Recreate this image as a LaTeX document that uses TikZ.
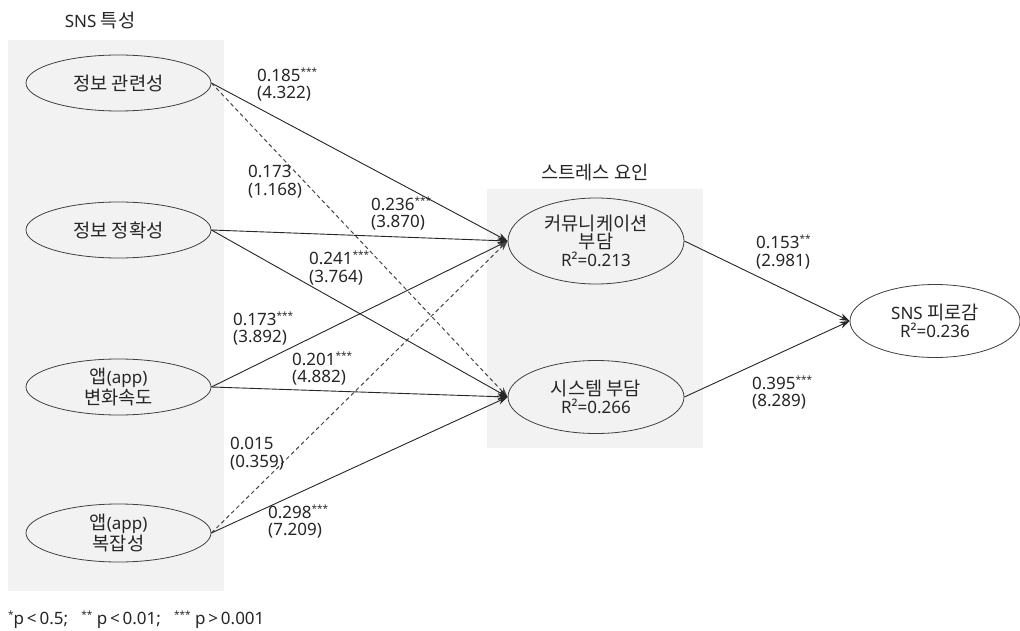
\documentclass[tikz,border=0pt]{standalone}
\usepackage{fontspec}
\setmainfont{Noto Sans}
\newfontfamily\kr[Scale=1.1]{Noto Sans CJK KR}
\usetikzlibrary{shapes.geometric,arrows.meta}
\definecolor{boxgray}{HTML}{F2F2F2}
\definecolor{linegray}{HTML}{404040}
\definecolor{txt}{HTML}{262626}
\newcommand\sg[1]{\raisebox{6pt}{\fontsize{10}{10}\selectfont #1}}
\begin{document}
\begin{tikzpicture}[x=1pt,y=-1pt,
  every node/.style={font=\fontsize{17}{17.5}\selectfont, text=txt},
  latent/.style={ellipse, draw=linegray, line width=0.8pt, inner sep=0pt, align=center},
  sigline/.style={draw=black!85, line width=0.9pt, -{Stealth[length=10pt,width=7pt]}},
  nsline/.style={sigline, line width=1pt, dash pattern=on 4pt off 3pt, draw=black!72},
  lbl/.style={anchor=west, align=left, inner sep=0pt},
  grp/.style={fill=boxgray, draw=none}]
\useasboundingbox (0,0) rectangle (1020,631);
\fill[white] (0,0) rectangle (1020,631);

% group boxes
\fill[grp] (8,40) rectangle (224,591);
\fill[grp] (487,189) rectangle (703,448);
\node (t1) at (100,20) {SNS {\kr 특성}};
\node (t2) at (595,172) {\kr 스트레스 요인};

% latent variables
\node[latent, minimum width=185pt, minimum height=56pt] (rel) at (118.5,83) {\kr 정보 관련성};
\node[latent, minimum width=185pt, minimum height=56pt] (acc) at (118.5,230) {\kr 정보 정확성};
\node[latent, minimum width=185pt, minimum height=56pt] (chg) at (118.5,387) {{\kr 앱}(app)\\{\kr 변화속도}};
\node[latent, minimum width=185pt, minimum height=58pt] (cpx) at (118.5,533) {{\kr 앱}(app)\\{\kr 복잡성}};

\node[latent, minimum width=176pt, minimum height=86pt] (com) at (596,241) {{\kr 커뮤니케이션}\\[0.5pt]{\kr 부담}\\R²=0.213};
\node[latent, minimum width=176pt, minimum height=73pt] (sys) at (596,397) {{\kr 시스템 부담}\\R²=0.266};
\node[latent, minimum width=170pt, minimum height=73pt] (fat) at (935,321) {SNS {\kr 피로감}\\R²=0.236};

% paths
\draw[sigline] (rel.east) -- (com.west);
\draw[nsline]  (rel.east) -- (sys.west);
\draw[sigline] (acc.east) -- (com.west);
\draw[sigline] (acc.east) -- (sys.west);
\draw[sigline] (chg.east) -- (com.west);
\draw[sigline] (chg.east) -- (sys.west);
\draw[nsline]  (cpx.east) -- (com.west);
\draw[sigline] (cpx.east) -- (sys.west);
\draw[sigline] (com.east) -- (fat.west);
\draw[sigline] (sys.east) -- (fat.west);

% path labels
\node[lbl] (l1) at (257,84.5) {0.185\sg{***}\\(4.322)};
\node[lbl] (l2) at (248,181.5) {0.173\\(1.168)};
\node[lbl] (l3) at (371,213.5) {0.236\sg{***}\\(3.870)};
\node[lbl] (l4) at (309,268) {0.241\sg{***}\\(3.764)};
\node[lbl] (l5) at (233,328.5) {0.173\sg{***}\\(3.892)};
\node[lbl] (l6) at (292,368.5) {0.201\sg{***}\\(4.882)};
\node[lbl] (l7) at (230,453.5) {0.015\\(0.359)};
\node[lbl] (l8) at (268,521.5) {0.298\sg{***}\\(7.209)};
\node[lbl] (l9) at (756,252) {0.153\sg{**}\\(2.981)};
\node[lbl] (l10) at (752,392.5) {0.395\sg{***}\\(8.289)};

% footnote
\node[lbl] (fn) at (8,620) {\sg{*}p\,<\,0.5;\ \ \ \sg{**} p\,<\,0.01;\ \ \ \sg{***} p\,>\,0.001};
\end{tikzpicture}
\end{document}
